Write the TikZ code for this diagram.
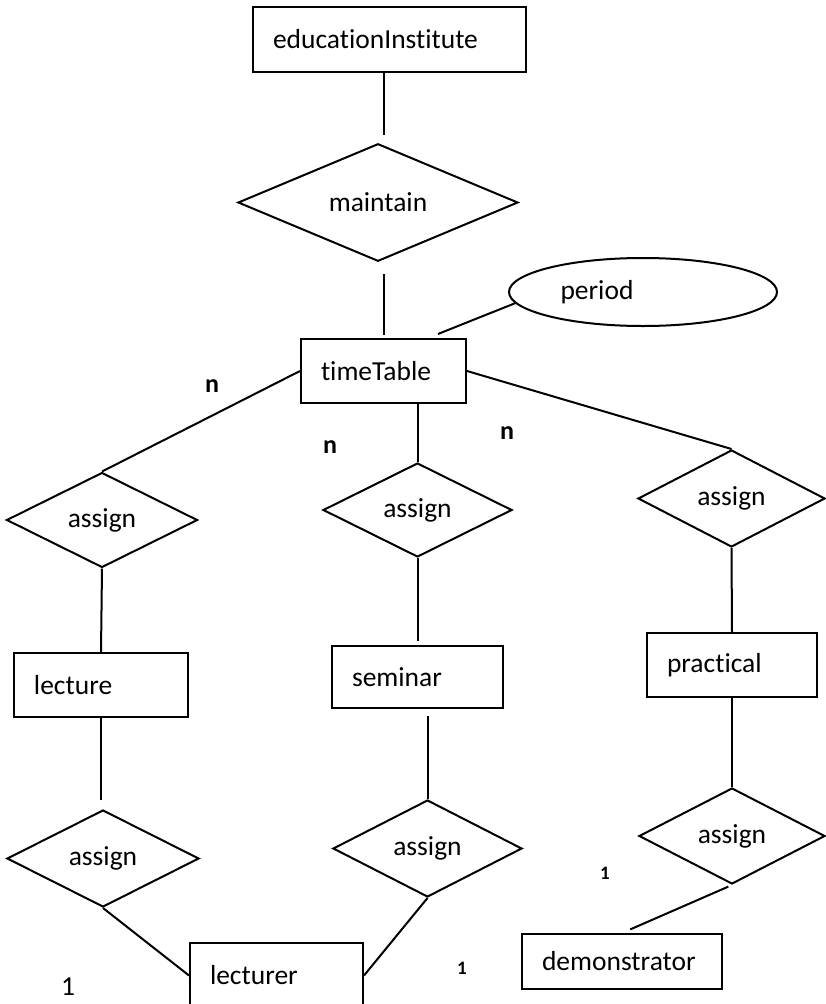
\documentclass[tikz,border=0pt]{standalone}
\usepackage{fontspec}
\setmainfont{Carlito}[Ligatures=NoCommon]
\usetikzlibrary{shapes.geometric}

\newcommand{\erfont}{\fontsize{27.5}{32}\selectfont}

\tikzstyle{entity} = [rectangle, draw=black, line width=2pt, inner xsep=20pt, minimum height=64pt, align=left, font=\erfont]
\tikzstyle{relation} = [diamond, draw=black, line width=2pt, inner sep=0pt, minimum width=190pt, minimum height=96pt, font=\erfont]
\tikzstyle{attribute} = [ellipse, draw=black, line width=2pt, minimum width=268pt, minimum height=68pt]
\tikzstyle{card} = [font=\fontsize{26}{30}\selectfont\bfseries]
\tikzstyle{smallcard} = [font=\fontsize{19}{23}\selectfont\bfseries]

\begin{document}
\begin{tikzpicture}[line width=2pt]

	\useasboundingbox (0,0) rectangle (825pt,-1004pt);

	\node (eduInst) [entity, text width=233pt, minimum height=65pt] at (389.5pt,-39.5pt) {educationInstitute};
	\node (maintain) [relation, node distance=163pt, below of=eduInst, xshift=-11.5pt, minimum width=280pt, minimum height=75pt] {maintain};
	\node (timeTable) [entity, text width=125pt, node distance=168.5pt, below of=maintain, xshift=5.5pt] {timeTable};
	\node (period) [attribute, node distance=259.5pt, right of=timeTable, yshift=79pt, label={[font=\erfont, xshift=-46pt]center:period}] {};

	\node (assignM) [relation, node distance=139pt, below of=timeTable, xshift=34pt, minimum width=189pt, minimum height=94pt] {assign};
	\node (assignL) [relation, node distance=315.5pt, left of=assignM, yshift=-10pt, minimum width=191pt, minimum height=95pt] {assign};
	\node (assignR) [relation, node distance=314pt, right of=assignM, yshift=11.5pt, minimum width=187pt, minimum height=97pt] {assign};

	\node (lecture) [entity, text width=134pt, node distance=165pt, below of=assignL, xshift=-1pt] {lecture};
	\node (seminar) [entity, text width=131pt, node distance=167pt, below of=assignM, minimum height=62pt] {seminar};
	\node (practical) [entity, text width=130pt, node distance=166.5pt, below of=assignR, xshift=0.5pt] {practical};

	\node (assignLL) [relation, node distance=173.5pt, below of=lecture, xshift=2pt, minimum width=192pt, minimum height=97pt] {assign};
	\node (assignLM) [relation, node distance=171.5pt, below of=seminar, xshift=10pt, minimum width=189pt, minimum height=97pt] {assign};
	\node (assignLR) [relation, node distance=171pt, below of=practical, minimum width=186pt, minimum height=96pt] {assign};

	\node (lecturer) [entity, text width=133pt, minimum height=65pt, node distance=117pt, below of=assignLL, xshift=173.5pt] {lecturer};
	\node (demonstrator) [entity, text width=160pt, minimum height=55pt, node distance=125.5pt, below of=assignLR, xshift=-110pt] {demonstrator};

	% cardinalities
	\node (cardTL) [card, node distance=171.5pt, left of=timeTable, yshift=-15pt] {n};
	\node (cardTM) [card, node distance=87.5pt, left of=assignM, yshift=63pt] {n};
	\node (cardTR) [card, node distance=89.5pt, right of=assignM, yshift=77pt] {n};
	\node (cardDem) [smallcard, node distance=127pt, left of=assignLR, yshift=-37pt] {1};
	\node (cardLecR) [smallcard, node distance=185.5pt, right of=lecturer, yshift=7.5pt] {1};
	\node (cardLecL) [font=\erfont, node distance=208.5pt, left of=lecturer, yshift=-11.5pt] {1};

	\draw [shorten >=8pt] (eduInst.south -| timeTable.north) -- (maintain.north -| timeTable.north);
	\draw [shorten <=12pt, shorten >=3pt] (timeTable.north |- maintain.south) -- (timeTable.north);
	\draw (period.185) -- ([shift={(-29pt,4pt)}]timeTable.north east);

	\draw (timeTable.west) -- (assignL.north);
	\draw (assignM.north |- timeTable.south) -- (assignM.north);
	\draw (timeTable.east) -- (assignR.north);

	\draw (assignL.south) -- (lecture.north);
	\draw [shorten >=4pt] (assignM.south) -- (seminar.north);
	\draw (assignR.south) -- (practical.north);

	\draw [shorten >=9pt] (lecture.south) -- (lecture.south |- assignLL.north);
	\draw [shorten <=7pt] (assignLM.north |- seminar.south) -- (assignLM.north);
	\draw (practical.south) -- (assignLR.north);

	\draw (assignLL.south) -- (lecturer.west);
	\draw (assignLM.south) -- (lecturer.east);
	\draw [shorten <=4pt, shorten >=9pt] (assignLR.south) -- (demonstrator.north);

\end{tikzpicture}
\end{document}
